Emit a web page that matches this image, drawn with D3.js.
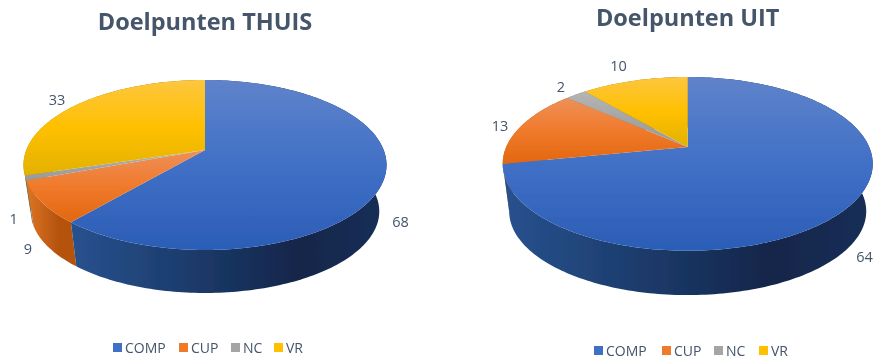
<!DOCTYPE html>
<html lang="en">
<head>
<meta charset="UTF-8">
<title>Doelpunten</title>
<style>
  html, body { margin: 0; background: #fff; }
  svg { display: block; }
  text { font-family: "Open Sans", sans-serif; fill: #44546a; }
</style>
</head>
<body>
<script src="https://cdn.jsdelivr.net/npm/d3@7.3.0/dist/d3.min.js"></script>
<script>
const categories = ["COMP", "CUP", "NC", "VR"];
const thuisValues = [68, 9, 1, 33];
const uitValues = [64, 13, 2, 10];

// top gradient: light, mid, dark / wall gradient: left, dark, right
const topColors = [
  ["#5f83cb", "#4170c6", "#2b5db6"],
  ["#ee9058", "#f07a2c", "#e2670f"],
  ["#b5b5b5", "#a5a5a5", "#999999"],
  ["#fdc63f", "#ffc000", "#e2b100"]
];
const wallColors = [
  ["#27528f", "#12264a", "#1a2f57"],
  ["#de7524", "#b5520f", "#b5520f"],
  ["#8a8a8a", "#6a6a6a", "#6a6a6a"],
  ["#b58c00", "#8f7000", "#8f7000"]
];

const width = 873, height = 363;
const svg = d3.select("body").append("svg").attr("width", width).attr("height", height);
const defs = svg.append("defs");
defs.append("filter").attr("id", "soft")
  .attr("x", "-5%").attr("y", "-5%").attr("width", "110%").attr("height", "110%")
  .append("feGaussianBlur").attr("stdDeviation", 0.45);

const pie = d3.pie().sort(null);
const line = d3.line().curve(d3.curveLinearClosed);

// disc seen in perspective: apex is not the ellipse centre
function projector(c) {
  return function (angle, scale, drop) {
    const u = Math.sin(angle), v = -Math.cos(angle);
    const den = 1 - c.k * v;
    return [c.cx + scale * c.a * u / den, c.cy + drop + scale * c.b * v / den];
  };
}

function arcPoints(p, start, end, scale, drop) {
  const n = Math.max(2, Math.ceil((end - start) / 0.02));
  return d3.range(n + 1).map(i => p(start + (end - start) * i / n, scale, drop));
}

function drawChart(id, title, values, c) {
  const g = svg.append("g").attr("filter", "url(#soft)");
  const p = projector(c);
  const arcs = pie(values);

  arcs.forEach((a, i) => {
    const tg = defs.append("linearGradient").attr("id", id + "top" + i)
      .attr("x1", 0).attr("y1", 0).attr("x2", 0).attr("y2", 1);
    topColors[i].forEach((col, j) => tg.append("stop").attr("offset", j / 2).attr("stop-color", col));
    // wall shading runs across the slice's own width
    const xs = d3.extent(arcPoints(p, a.startAngle, a.endAngle, 1, 0), q => q[0]);
    const wg = defs.append("linearGradient").attr("id", id + "wall" + i)
      .attr("gradientUnits", "userSpaceOnUse")
      .attr("x1", xs[0]).attr("x2", xs[1]).attr("y1", 0).attr("y2", 0);
    wallColors[i].forEach((col, j) => wg.append("stop")
      .attr("offset", [0, 0.72, 1][j]).attr("stop-color", col));
  });

  // walls, back ones first
  const frontness = a => d3.max(arcPoints(p, a.startAngle, a.endAngle, 1, 0), q => q[1]);
  arcs.slice().sort((x, y) => frontness(x) - frontness(y)).forEach(a => {
    const upper = arcPoints(p, a.startAngle, a.endAngle, 1, 0);
    const lower = arcPoints(p, a.startAngle, a.endAngle, c.shrink, c.depth).reverse();
    g.append("path").attr("d", line(upper.concat(lower)))
      .attr("fill", `url(#${id}wall${a.index})`);
  });

  // top face
  arcs.forEach(a => {
    const pts = [[c.cx, c.cy]].concat(arcPoints(p, a.startAngle, a.endAngle, 1, 0));
    g.append("path").attr("d", line(pts)).attr("fill", `url(#${id}top${a.index})`);
  });

  // value labels
  arcs.forEach(a => {
    const m = p((a.startAngle + a.endAngle) / 2, 1, 0);
    g.append("text")
      .attr("x", m[0] + c.nudge[a.index][0])
      .attr("y", m[1] + c.nudge[a.index][1])
      .attr("text-anchor", "middle").attr("dominant-baseline", "central")
      .style("font-size", "14.5px")
      .text(a.value);
  });

  g.append("text").attr("x", c.cx).attr("y", c.titleY)
    .attr("text-anchor", "middle")
    .style("font-size", "23.5px").style("font-weight", 700)
    .text(title);

  const legendX = d3.scaleOrdinal().domain(categories).range(c.legendX);
  categories.forEach((name, i) => {
    g.append("rect").attr("x", legendX(name)).attr("y", c.legendY)
      .attr("width", 9).attr("height", 9).attr("fill", topColors[i][1]);
    g.append("text").attr("x", legendX(name) + 12).attr("y", c.legendY + 4.5)
      .attr("dominant-baseline", "central")
      .style("font-size", "14px")
      .text(name);
  });
}

drawChart("thuis", "Doelpunten THUIS", thuisValues, {
  cx: 205, cy: 150, a: 178.7, b: 82.35, k: 0.176, shrink: 0.96, depth: 47,
  titleY: 30, legendY: 343, legendX: [113, 179, 231, 274],
  nudge: [[17, 41], [-14, 46], [-12, 41], [-18, -6]]
});
drawChart("uit", "Doelpunten UIT", uitValues, {
  cx: 687.7, cy: 147, a: 181.5, b: 83.6, k: 0.194, shrink: 0.965, depth: 48,
  titleY: 25.5, legendY: 346, legendX: [594, 662, 714, 759],
  nudge: [[17, 49], [-21, -1], [-15, -8], [-16, -15]]
});
</script>
</body>
</html>
